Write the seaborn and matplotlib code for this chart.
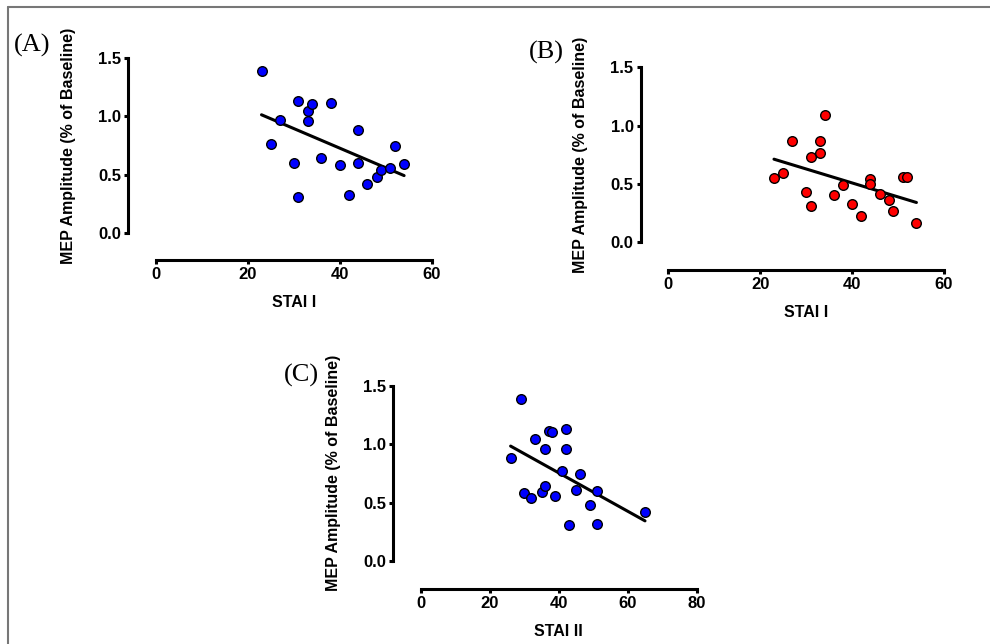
import numpy as np
import pandas as pd
import matplotlib
matplotlib.use("Agg")
import matplotlib.pyplot as plt
import seaborn as sns
from matplotlib.lines import Line2D
from matplotlib.ticker import FormatStrFormatter

# panel A: STAI I vs MEP amplitude (blue)
stai1_a = [23, 25, 27, 30, 31, 31, 33, 33, 34, 36, 38, 40, 42, 44, 44, 46, 48, 49, 51, 52, 54]
mep_a = [1.39, 0.766, 0.967, 0.600, 1.136, 0.310, 1.047, 0.964, 1.105, 0.643, 1.116,
         0.580, 0.324, 0.886, 0.602, 0.416, 0.482, 0.537, 0.557, 0.746, 0.591]

# panel B: STAI I vs MEP amplitude (red)
stai1_b = [23, 25, 27, 30, 31, 31, 33, 33, 34, 36, 38, 40, 42, 44, 44, 46, 48, 49, 51, 52, 54]
mep_b = [0.548, 0.591, 0.863, 0.428, 0.732, 0.310, 0.863, 0.766, 1.090, 0.404, 0.490,
         0.324, 0.221, 0.539, 0.502, 0.416, 0.361, 0.267, 0.559, 0.559, 0.166]

# panel C: STAI II vs MEP amplitude (blue)
stai2_c = [26, 29, 30, 32, 33, 35, 36, 36, 37, 38, 39, 41, 42, 42, 43, 45, 46, 49, 51, 51, 65]
mep_c = [0.881, 1.383, 0.579, 0.539, 1.044, 0.590, 0.961, 0.642, 1.112, 1.101, 0.556,
         0.770, 1.132, 0.961, 0.308, 0.605, 0.744, 0.482, 0.601, 0.319, 0.416]

y_label = 'MEP Amplitude (% of Baseline)'

sns.set_style('ticks')
plt.rcParams['font.family'] = ['Liberation Sans', 'DejaVu Sans']
plt.rcParams['font.weight'] = 'bold'
plt.rcParams['text.color'] = 'black'
plt.rcParams['axes.labelcolor'] = 'black'
plt.rcParams['xtick.color'] = 'black'
plt.rcParams['ytick.color'] = 'black'

fig = plt.figure(figsize=(9.9, 6.44), dpi=100)

W, H = 990.0, 644.0


def make_axes(x0, x1, y0, y1):
    # pixel positions of the data box (x0..x1 left/right, y0 bottom, y1 top, from top of image)
    return fig.add_axes([x0 / W, 1 - y0 / H, (x1 - x0) / W, (y0 - y1) / H])


def draw_panel(ax, x, y, color, xmax, xticks, xlabel, tag, tag_xy):
    df = pd.DataFrame({'x': x, 'y': y})
    sns.regplot(data=df, x='x', y='y', ax=ax, ci=None, truncate=True,
                scatter_kws=dict(s=48, color=color, edgecolor='black', linewidths=1.0,
                                 alpha=1, clip_on=False, zorder=3),
                line_kws=dict(color='black', lw=2.2, zorder=2))
    ax.set_xlim(0, xmax)
    ax.set_ylim(0, 1.5)
    ax.set_xticks(xticks)
    ax.set_yticks([0, 0.5, 1.0, 1.5])
    ax.yaxis.set_major_formatter(FormatStrFormatter('%.1f'))
    for side in ['top', 'right']:
        ax.spines[side].set_visible(False)
    for side in ['left', 'bottom']:
        ax.spines[side].set_position(('outward', 20))
        ax.spines[side].set_linewidth(2.2)
        ax.spines[side].set_color('black')
    ax.tick_params(axis='both', length=3, width=2.2, pad=2, labelsize=12,
                   color='black', labelcolor='black')
    for lab in ax.get_xticklabels() + ax.get_yticklabels():
        lab.set_fontweight('bold')
    ax.set_xlabel(xlabel, fontsize=11.5, fontweight='bold', color='black')
    ax.set_ylabel(y_label, fontsize=11.5, fontweight='bold', color='black')
    ax.yaxis.set_label_coords(-0.29, 0.5)
    ax.xaxis.set_label_coords(0.5, -0.36)
    ax.xaxis.label.set_va('top')
    fig.text(tag_xy[0] / W, 1 - tag_xy[1] / H, tag, family=['Liberation Serif', 'DejaVu Serif'],
             fontsize=19, fontweight='normal', ha='left', va='center', color='black')


ax_a = make_axes(155.7, 431.7, 232.7, 58.3)
draw_panel(ax_a, stai1_a, mep_a, '#0000ff', 60, [0, 20, 40, 60], 'STAI I', '(A)', (14, 45))

ax_b = make_axes(668.3, 944, 242, 67.3)
draw_panel(ax_b, stai1_b, mep_b, '#ff0000', 60, [0, 20, 40, 60], 'STAI I', '(B)', (529, 52))

ax_c = make_axes(421, 696.7, 561, 385.7)
draw_panel(ax_c, stai2_c, mep_c, '#0000ff', 80, [0, 20, 40, 60, 80], 'STAI II', '(C)', (284, 375))

# grey frame (open on the right and bottom)
fig.add_artist(Line2D([7.5 / W, 1.0], [1 - 7 / H, 1 - 7 / H], color='#777777', lw=1.5))
fig.add_artist(Line2D([7.5 / W, 7.5 / W], [1 - 7 / H, 0.0], color='#777777', lw=1.5))

fig.savefig('out.png', dpi=100, facecolor='white')
